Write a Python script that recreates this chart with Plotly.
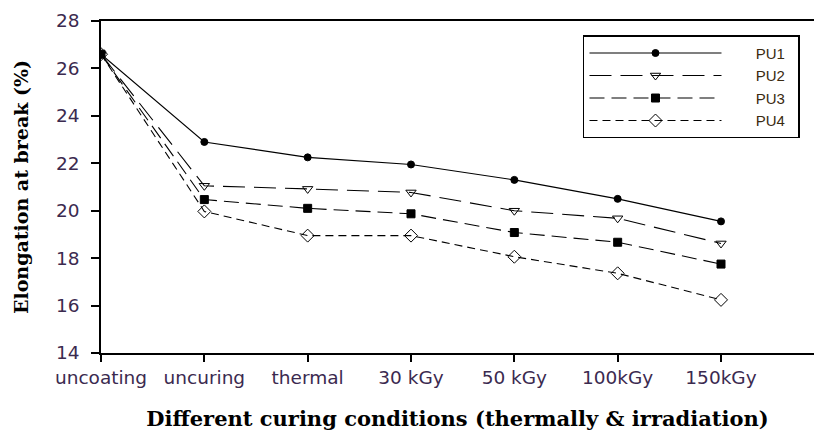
import plotly.graph_objects as go

categories = ["uncoating", "uncuring", "thermal", "30 kGy", "50 kGy", "100kGy", "150kGy"]
pu1 = [26.6, 22.9, 22.25, 21.95, 21.3, 20.5, 19.55]
pu2 = [26.6, 21.05, 20.92, 20.77, 20.0, 19.68, 18.62]
pu3 = [26.6, 20.47, 20.1, 19.87, 19.08, 18.67, 17.75]
pu4 = [26.6, 19.97, 18.95, 18.95, 18.06, 17.36, 16.24]
y_ticks = [14, 16, 18, 20, 22, 24, 26, 28]
series_names = ["PU1", "PU2", "PU3", "PU4"]

styles = [
    ("solid", "circle", "black", 7),
    ("22px,9px", "triangle-down-open", "black", 9),
    ("15px,7px", "square", "black", 8),
    ("8px,5px", "diamond-open", "black", 10),
]

x_idx = list(range(len(categories)))
fig = go.Figure()
for name, vals, (dash, sym, col, size) in zip(series_names, [pu1, pu2, pu3, pu4], styles):
    fig.add_trace(go.Scatter(
        x=x_idx, y=vals, name="&nbsp;" * 7 + name + "&nbsp;" * 2, mode="lines+markers",
        line=dict(color="black", width=1.1, dash=dash),
        marker=dict(symbol=sym, size=size, color=col,
                    line=dict(color="black", width=1)),
    ))

tick_color = "#3b2a4f"
fig.update_layout(
    width=814, height=432,
    margin=dict(l=101, r=0, t=21, b=79),
    plot_bgcolor="white", paper_bgcolor="white",
    showlegend=True,
    legend=dict(
        x=0.676, y=0.957, xanchor="left", yanchor="top",
        bordercolor="black", borderwidth=1.5, bgcolor="white",
        font=dict(family="Liberation Sans", size=15, color="#3a2a10"),
        itemwidth=132, tracegroupgap=0,
    ),
    xaxis=dict(
        range=[0, 6.9], tickmode="array", tickvals=x_idx, ticktext=categories,
        showline=True, linecolor="black", linewidth=1.5, mirror=True,
        ticks="outside", ticklen=7, tickcolor="black", tickwidth=1.5,
        showgrid=False, zeroline=False,
        tickfont=dict(family="DejaVu Sans", size=18.5, color=tick_color),
        title=dict(text="<b>Different curing conditions (thermally &amp; irradiation)</b>",
                   font=dict(family="DejaVu Serif", size=21, color="black"),
                   standoff=24),
    ),
    yaxis=dict(
        range=[14, 28], tickmode="array", tickvals=y_ticks,
        showline=True, linecolor="black", linewidth=1.5,
        ticks="outside", ticklen=8, tickcolor="black", tickwidth=1.5,
        ticklabelstandoff=8,
        showgrid=False, zeroline=False,
        tickfont=dict(family="DejaVu Sans", size=18.5, color=tick_color),
        title=dict(text="<b>Elongation at break (%)</b>",
                   font=dict(family="DejaVu Serif", size=19, color="black"),
                   standoff=22),
    ),
)

fig.write_html("out.html")
